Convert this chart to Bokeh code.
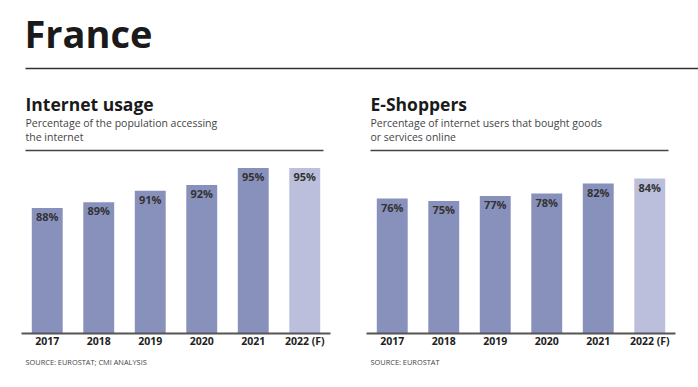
from bokeh.plotting import figure
from bokeh.layouts import column, row
from bokeh.models import ColumnDataSource, Range1d, FactorRange
from bokeh.core.properties import value
from bokeh.embed import file_html
from bokeh.resources import INLINE

years = ["2017", "2018", "2019", "2020", "2021", "2022 (F)"]
internet_usage = [88, 89, 91, 92, 95, 95]
e_shoppers = [76, 75, 77, 78, 82, 84]
forecast = [False, False, False, False, False, True]

country = "France"
left_title = "Internet usage"
left_sub = ["Percentage of the population accessing", "the internet"]
left_source = "SOURCE: EUROSTAT; CMI ANALYSIS"
right_title = "E-Shoppers"
right_sub = ["Percentage of internet users that bought goods", "or services online"]
right_source = "SOURCE: EUROSTAT"

BAR = "#8890BC"
BAR_F = "#BBBFDB"
FONT = "Open Sans"

W = 698
HEAD_H = 152
CHART_H = 202
FOOT_H = 33
FRAME_W = 309


def canvas_fig(w, h):
    f = figure(width=w, height=h, output_backend="svg", toolbar_location=None,
               x_range=Range1d(0, w), y_range=Range1d(h, 0),
               min_border=0, outline_line_color=None)
    f.axis.visible = False
    f.grid.visible = False
    return f


head = canvas_fig(W, HEAD_H)
head.text(x=[24], y=[32], text=[country], text_font=value(FONT), text_font_size="38px",
          text_font_style="bold", text_color="#1a1a1a", text_baseline="middle")
head.segment(x0=[25], y0=[68], x1=[W], y1=[68], line_color="#333333", line_width=1.5)
for x0, t, subs in [(25, left_title, left_sub), (370, right_title, right_sub)]:
    head.text(x=[x0], y=[103.5], text=[t], text_font=value(FONT), text_font_size="17.5px",
              text_font_style="bold", text_color="#1a1a1a", text_baseline="middle")
    head.text(x=[x0, x0], y=[122.5, 136.5], text=subs, text_font=value(FONT),
              text_font_size="10.5px", text_color="#444444", text_baseline="middle")
    head.segment(x0=[x0], y0=[150], x1=[x0 + 298], y1=[150], line_color="#444444", line_width=1.5)


def bar_chart(vals, y0, y1, w, left_border):
    src = ColumnDataSource(dict(
        x=years, top=vals,
        color=[BAR_F if f else BAR for f in forecast],
        label=[f"{v}%" for v in vals],
    ))
    f = figure(width=w, height=CHART_H, output_backend="svg", toolbar_location=None,
               x_range=FactorRange(*years, range_padding=0), y_range=Range1d(y0, y1),
               min_border_left=left_border, min_border_right=w - left_border - FRAME_W,
               min_border_top=0, min_border_bottom=21, outline_line_color=None)
    f.vbar(x="x", top="top", bottom=y0, width=0.6, fill_color="color", line_color=None, source=src)
    f.text(x="x", y="top", text="label", source=src, text_font=value(FONT),
           text_font_size="11px", text_font_style="bold", text_color="#333333",
           text_align="center", text_baseline="middle", y_offset=8.5)
    f.yaxis.visible = False
    f.grid.visible = False
    ax = f.xaxis[0]
    ax.axis_line_color = "#555555"
    ax.axis_line_width = 2
    ax.major_tick_line_color = None
    ax.minor_tick_line_color = None
    ax.major_label_text_font = FONT
    ax.major_label_text_font_size = "10.5px"
    ax.major_label_text_font_style = "bold"
    ax.major_label_text_color = "#222222"
    ax.major_label_standoff = -6
    return f


left = bar_chart(internet_usage, 66, 97.7, 345, 21)
right = bar_chart(e_shoppers, 22, 94.4, 353, 21)

foot = canvas_fig(W, FOOT_H)
foot.text(x=[25, 370], y=[7, 7], text=[left_source, right_source], text_font=value(FONT),
          text_font_size="7.4px", text_color="#444444", text_baseline="middle")

p = column(head, row(left, right, spacing=0), foot, spacing=0)

open("out.html", "w").write(file_html(p, INLINE))
